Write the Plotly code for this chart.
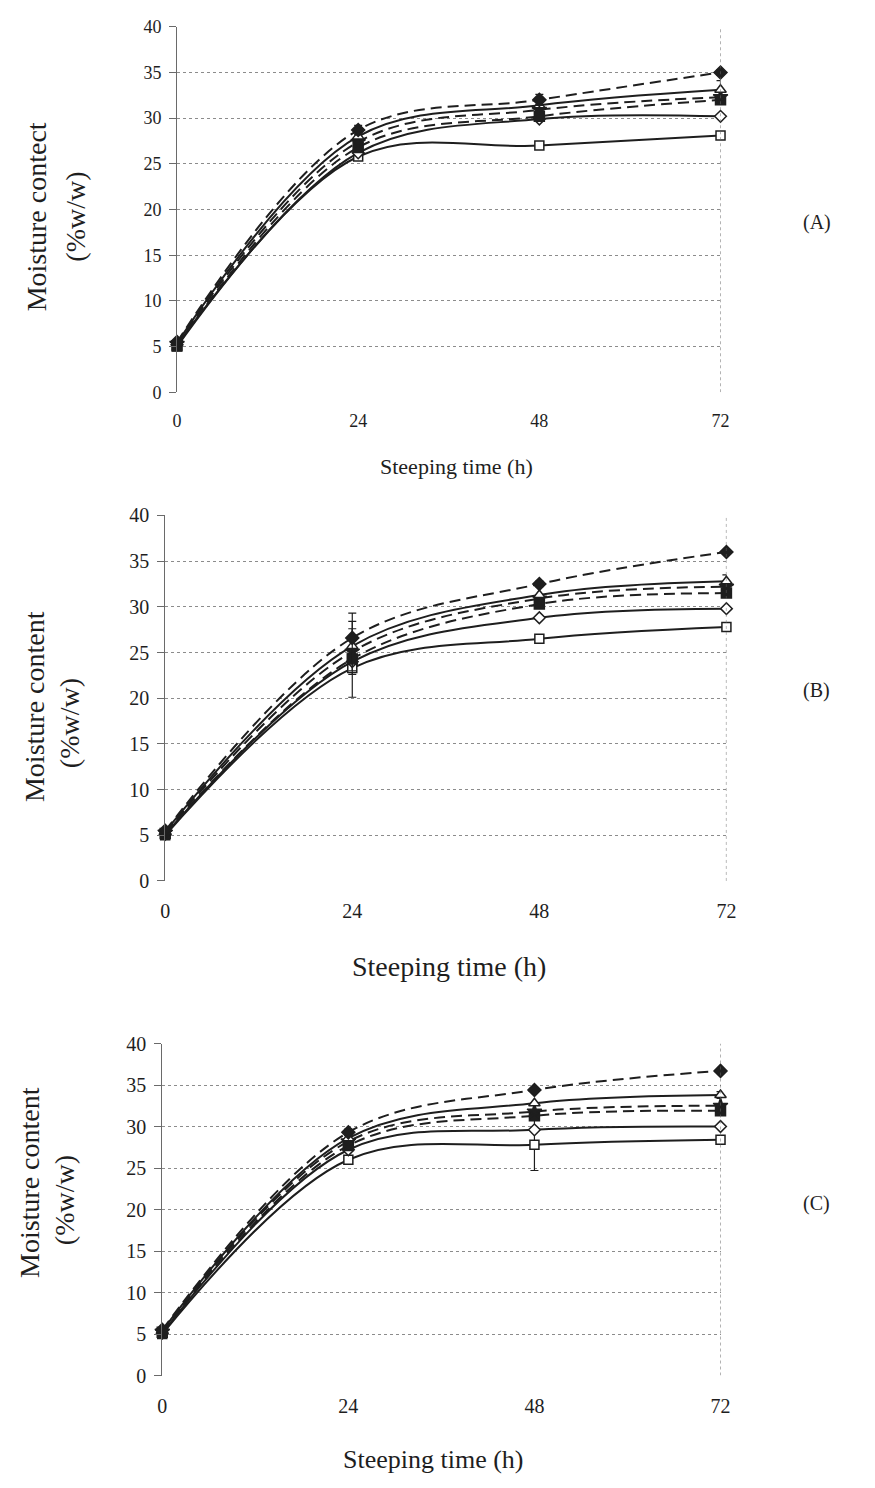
import plotly.graph_objects as go

# ---------------- data ----------------
hours = [0, 24, 48, 72]
x_tick_labels = ["0", "24", "48", "72"]
y_ticks = [0, 5, 10, 15, 20, 25, 30, 35, 40]

# Panel A
a_open_square = [5.0, 25.8, 27.0, 28.1]
a_open_diamond = [5.2, 26.2, 29.9, 30.2]
a_filled_square = [5.1, 26.8, 30.2, 32.0]
a_star = [5.3, 27.4, 30.9, 32.3]
a_open_triangle = [5.4, 28.0, 31.4, 33.1]
a_filled_diamond = [5.5, 28.7, 32.0, 35.0]
a_err_open_square = [0, 0, 0.3, 0.2]
a_err_open_diamond = [0, 0, 0, 0]
a_err_filled_square = [0, 0.4, 0, 0]
a_err_star = [0, 0, 0, 0]
a_err_open_triangle = [0, 0, 0, 1.0]
a_err_filled_diamond = [0, 0.5, 0.6, 0.3]

# Panel B
b_open_square = [5.0, 23.3, 26.5, 27.8]
b_open_diamond = [5.1, 24.0, 28.8, 29.8]
b_filled_square = [5.2, 24.3, 30.3, 31.5]
b_star = [5.3, 25.1, 30.9, 32.2]
b_open_triangle = [5.4, 25.7, 31.3, 32.8]
b_filled_diamond = [5.5, 26.6, 32.5, 36.0]
b_err_open_square = [0, 3.2, 0, 0]
b_err_open_diamond = [0, 0, 0, 0]
b_err_filled_square = [0, 0, 0, 0]
b_err_star = [0, 2.5, 0, 0]
b_err_open_triangle = [0, 2.7, 0, 0.7]
b_err_filled_diamond = [0, 2.7, 0.3, 0]

# Panel C
c_open_square = [5.0, 26.0, 27.8, 28.4]
c_open_diamond = [5.1, 27.2, 29.6, 30.0]
c_filled_square = [5.2, 27.7, 31.3, 31.9]
c_star = [5.3, 28.2, 31.8, 32.5]
c_open_triangle = [5.4, 28.6, 32.8, 33.8]
c_filled_diamond = [5.5, 29.3, 34.4, 36.7]
c_err_open_square = [0, 0, 3.1, 0]
c_err_open_diamond = [0, 0, 0, 0]
c_err_filled_square = [0, 0, 0, 0]
c_err_star = [0, 0, 0, 0]
c_err_open_triangle = [0, 0, 0, 0.4]
c_err_filled_diamond = [0, 0.4, 0, 0]

panel_labels = ["(A)", "(B)", "(C)"]
y_titles = ["Moisture contect", "Moisture content", "Moisture content"]
y_title_units = "(%w/w)"
x_title = "Steeping time (h)"

# ---------------- styles ----------------
W, H = 875, 1488
INK = "#1e1e1e"
FONT = "Liberation Serif, Times New Roman, serif"

series_styles = [
    dict(symbol="square", fill="white", dash="solid", size=9),      # open square
    dict(symbol="diamond", fill="white", dash="solid", size=9),     # open diamond
    dict(symbol="square", fill=INK, dash="11px,6px", size=10),      # filled square
    dict(symbol="star", fill=INK, dash="11px,6px", size=11),        # star
    dict(symbol="triangle-up", fill="white", dash="solid", size=10),# open triangle
    dict(symbol="diamond", fill=INK, dash="11px,6px", size=10),     # filled diamond
]

panels = [
    dict(values=[a_open_square, a_open_diamond, a_filled_square, a_star, a_open_triangle, a_filled_diamond],
         errors=[a_err_open_square, a_err_open_diamond, a_err_filled_square, a_err_star, a_err_open_triangle, a_err_filled_diamond],
         box=(175, 728, 16, 387), tick_size=18, xt_size=22, yt_size=28,
         xt_pos=(459, 462), yt1=(32, 209), yt2=(72, 209), label_pos=(826, 215)),
    dict(values=[b_open_square, b_open_diamond, b_filled_square, b_star, b_open_triangle, b_filled_diamond],
         errors=[b_err_open_square, b_err_open_diamond, b_err_filled_square, b_err_star, b_err_open_triangle, b_err_filled_diamond],
         box=(163, 734, 512, 883), tick_size=20, xt_size=28, yt_size=28,
         xt_pos=(452, 970), yt1=(30, 706), yt2=(65, 723), label_pos=(826, 690)),
    dict(values=[c_open_square, c_open_diamond, c_filled_square, c_star, c_open_triangle, c_filled_diamond],
         errors=[c_err_open_square, c_err_open_diamond, c_err_filled_square, c_err_star, c_err_open_triangle, c_err_filled_diamond],
         box=(160, 728, 1048, 1385), tick_size=20, xt_size=26, yt_size=28,
         xt_pos=(436, 1470), yt1=(25, 1189), yt2=(60, 1207), label_pos=(826, 1210)),
]

fig = go.Figure()
annotations = []
shapes = []
layout_axes = {}

for i, p in enumerate(panels):
    n = "" if i == 0 else str(i + 1)
    xa, ya = "x" + n, "y" + n
    x0, x1, y0, y1 = p["box"]
    for vals, errs, st in zip(p["values"], p["errors"], series_styles):
        fig.add_trace(go.Scatter(
            x=hours, y=vals, xaxis=xa, yaxis=ya, mode="lines+markers",
            line=dict(color=INK, width=2.0, dash=st["dash"], shape="spline", smoothing=1.0),
            marker=dict(symbol=st["symbol"], size=st["size"], color=st["fill"],
                        line=dict(color=INK, width=1.5)),
            error_y=dict(type="data", array=errs, visible=True, color=INK, thickness=1.2, width=4),
            cliponaxis=False, showlegend=False, hoverinfo="skip"))
    layout_axes["xaxis" + n] = dict(
        domain=[x0 / W, x1 / W], range=[0, 72], anchor=ya,
        tickvals=hours, ticktext=x_tick_labels, showgrid=False, zeroline=False,
        showline=False, ticks="", ticklabelstandoff=16,
        tickfont=dict(family=FONT, size=p["tick_size"], color=INK))
    layout_axes["yaxis" + n] = dict(
        domain=[1 - y1 / H, 1 - y0 / H], range=[0, 40], anchor=xa,
        tickvals=y_ticks, showgrid=True, gridcolor="#8c8c8c", griddash="dot", gridwidth=1,
        zeroline=False, showline=True, linecolor="#6a6a6a", linewidth=1,
        ticks="outside", ticklen=7, tickcolor="#6a6a6a", ticklabelstandoff=4,
        tickfont=dict(family=FONT, size=p["tick_size"], color=INK))
    shapes.append(dict(type="line", xref=xa, yref=ya, x0=72, x1=72, y0=0, y1=40,
                       line=dict(color="#6a6a6a", width=1, dash="dot")))
    annotations.append(dict(text=x_title, xref="paper", yref="paper",
                            x=p["xt_pos"][0] / W, y=1 - p["xt_pos"][1] / H,
                            xanchor="center", yanchor="middle", showarrow=False,
                            font=dict(family=FONT, size=p["xt_size"], color=INK)))
    annotations.append(dict(text=y_titles[i], xref="paper", yref="paper",
                            x=p["yt1"][0] / W, y=1 - p["yt1"][1] / H, textangle=-90,
                            xanchor="center", yanchor="middle", showarrow=False,
                            font=dict(family=FONT, size=p["yt_size"], color=INK)))
    annotations.append(dict(text=y_title_units, xref="paper", yref="paper",
                            x=p["yt2"][0] / W, y=1 - p["yt2"][1] / H, textangle=-90,
                            xanchor="center", yanchor="middle", showarrow=False,
                            font=dict(family=FONT, size=p["yt_size"], color=INK)))
    annotations.append(dict(text=panel_labels[i], xref="paper", yref="paper",
                            x=p["label_pos"][0] / W, y=1 - p["label_pos"][1] / H,
                            xanchor="center", yanchor="middle", showarrow=False,
                            font=dict(family=FONT, size=20, color=INK)))

fig.update_layout(width=W, height=H, margin=dict(l=0, r=0, t=0, b=0),
                  paper_bgcolor="white", plot_bgcolor="white",
                  annotations=annotations, shapes=shapes, **layout_axes)

fig.write_html("out.html")
